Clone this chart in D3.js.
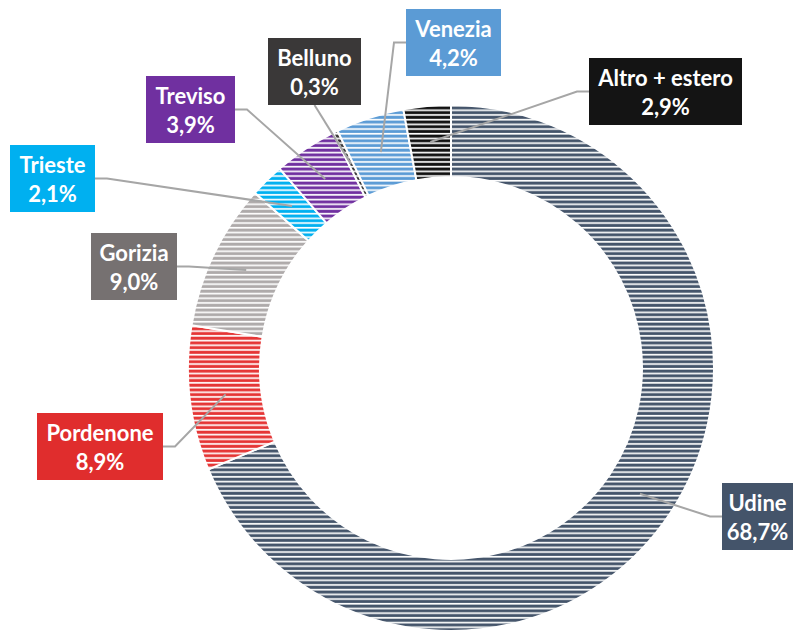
<!DOCTYPE html>
<html>
<head>
<meta charset="utf-8">
<script src="https://cdn.jsdelivr.net/npm/d3@7"></script>
<style>
  body { margin: 0; background: #fff; }
  svg { display: block; }
</style>
</head>
<body>
<div id="wrapper"></div>
<script>
// DATA
const categories = ["Udine", "Pordenone", "Gorizia", "Trieste", "Treviso", "Belluno", "Venezia", "Altro + estero"]
const shares = [68.7, 8.9, 9.0, 2.1, 3.9, 0.3, 4.2, 2.9]
const labelTexts = ["68,7%", "8,9%", "9,0%", "2,1%", "3,9%", "0,3%", "4,2%", "2,9%"]

// STYLES
const stripeColors = ["#44546a", "#e53535", "#aeaaaa", "#00b0f0", "#7030a0", "#3a3838", "#5b9bd5", "#111111"]
const boxColors = ["#44546a", "#e02d2d", "#767171", "#00b0f0", "#7030a0", "#3a3838", "#5b9bd5", "#141414"]

// label boxes placed by hand, like in the original: center x, top, width, side of leader
const labelLayout = {
  "Udine":          { cx: 757.5, top: 483, w: 71,  side: "left" },
  "Pordenone":      { cx: 100,   top: 413, w: 126, side: "right" },
  "Gorizia":        { cx: 134,   top: 233, w: 86,  side: "right" },
  "Trieste":        { cx: 52.5,  top: 145, w: 85,  side: "right" },
  "Treviso":        { cx: 190.5, top: 76,  w: 89,  side: "right" },
  "Belluno":        { cx: 314.5, top: 38,  w: 93,  side: "bottom" },
  "Venezia":        { cx: 453.5, top: 9,   w: 95,  side: "left" },
  "Altro + estero": { cx: 665.5, top: 58,  w: 153, side: "left" },
}

const width = 794
const height = 631
const center = { x: 451, y: 368 }
const outerR = 263
const innerR = 191
const boxH = 67

const svg = d3.select("#wrapper")
  .append("svg")
  .attr("width", width)
  .attr("height", height)

// striped fills
const defs = svg.append("defs")
categories.forEach((c, i) => {
  const p = defs.append("pattern")
    .attr("id", "stripe" + i)
    .attr("patternUnits", "userSpaceOnUse")
    .attr("width", 8)
    .attr("height", 4.7)
  p.append("rect")
    .attr("width", 8)
    .attr("height", 4.7)
    .attr("fill", "#fff")
  p.append("rect")
    .attr("y", 1.6)
    .attr("width", 8)
    .attr("height", 3)
    .attr("fill", stripeColors[i])
})

const data = categories.map((c, i) => ({ name: c, value: shares[i], text: labelTexts[i], i }))

const pie = d3.pie()
  .sort(null)
  .value(d => d.value)

const arcs = pie(data)

const arc = d3.arc()
  .innerRadius(innerR)
  .outerRadius(outerR)

const midArc = d3.arc()
  .innerRadius((innerR + outerR) / 2)
  .outerRadius((innerR + outerR) / 2)

const bounds = svg.append("g")
  .attr("transform", `translate(${center.x},${center.y})`)

bounds.selectAll("path.slice")
  .data(arcs)
  .join("path")
  .attr("class", "slice")
  .attr("d", arc)
  .attr("fill", d => `url(#stripe${d.data.i})`)
  .attr("stroke", "#fff")
  .attr("stroke-width", 2)

// leader lines
const lines = svg.append("g")
arcs.forEach(a => {
  const L = labelLayout[a.data.name]
  const [mx, my] = midArc.centroid(a)
  const px = center.x + mx
  const py = center.y + my
  let pts
  if (L.side === "left") {
    const x0 = L.cx - L.w / 2, y0 = L.top + boxH / 2
    pts = [[x0, y0], [x0 - 12, y0], [px, py]]
  } else if (L.side === "right") {
    const x0 = L.cx + L.w / 2, y0 = L.top + boxH / 2
    pts = [[x0, y0], [x0 + 12, y0], [px, py]]
  } else {
    pts = [[L.cx, L.top + boxH], [px, py]]
  }
  lines.append("path")
    .attr("d", d3.line()(pts))
    .attr("fill", "none")
    .attr("stroke", "#a6a6a6")
    .attr("stroke-width", 2)
})

// label boxes
const labels = svg.append("g")
  .selectAll("g")
  .data(data)
  .join("g")
  .attr("transform", d => `translate(${labelLayout[d.name].cx},${labelLayout[d.name].top})`)

labels.append("rect")
  .attr("x", d => -labelLayout[d.name].w / 2)
  .attr("y", 0)
  .attr("width", d => labelLayout[d.name].w)
  .attr("height", boxH)
  .attr("fill", d => boxColors[d.i])

const label = labels.append("text")
  .attr("text-anchor", "middle")
  .style("font-family", "Lato, 'Open Sans', sans-serif")
  .style("font-weight", "bold")
  .style("font-size", "22px")
  .attr("fill", "#fff")

label.append("tspan").attr("x", 0).attr("y", 28).text(d => d.name)
label.append("tspan").attr("x", 0).attr("y", 57).text(d => d.text)
</script>
</body>
</html>
